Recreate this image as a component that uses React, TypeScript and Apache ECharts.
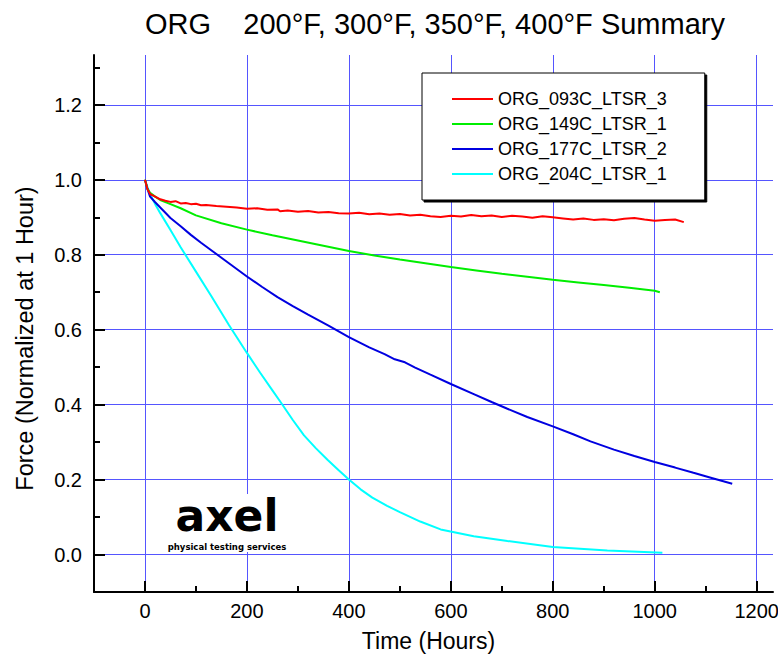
import React, { useEffect, useRef } from 'react';
import * as echarts from 'echarts';

const FONT = '"Liberation Sans", Arial, sans-serif';

const seriesNames = ['ORG_093C_LTSR_3', 'ORG_149C_LTSR_1', 'ORG_177C_LTSR_2', 'ORG_204C_LTSR_1'];
const seriesColors = ['#ff0000', '#00ee00', '#0000e0', '#00ffff'];

const xTickValues = [0, 200, 400, 600, 800, 1000, 1200];
const yTickValues = [0, 0.2, 0.4, 0.6, 0.8, 1.0, 1.2];

const redHours = [0, 5, 10, 20, 30, 40, 50, 60, 70, 80, 90, 100, 110, 120, 140, 160, 180, 200, 220, 240, 260, 265, 280, 300, 320, 340, 360, 380, 400, 420, 440, 460, 480, 500, 520, 540, 560, 580, 600, 620, 640, 660, 680, 700, 720, 740, 760, 780, 800, 820, 840, 860, 880, 900, 920, 940, 960, 980, 1000, 1020, 1040, 1057];
const redForce = [1.0, 0.975, 0.962, 0.955, 0.948, 0.944, 0.941, 0.943, 0.937, 0.938, 0.935, 0.936, 0.932, 0.933, 0.93, 0.928, 0.926, 0.923, 0.924, 0.92, 0.921, 0.916, 0.918, 0.915, 0.917, 0.913, 0.914, 0.911, 0.91, 0.912, 0.908, 0.91, 0.907, 0.909, 0.905, 0.907, 0.903, 0.901, 0.904, 0.902, 0.906, 0.903, 0.905, 0.901, 0.904, 0.902, 0.899, 0.903, 0.9, 0.897, 0.894, 0.897, 0.893, 0.895, 0.892, 0.896, 0.898, 0.894, 0.891, 0.893, 0.894, 0.887];

const greenHours = [0, 5, 10, 20, 30, 50, 70, 100, 150, 200, 250, 300, 350, 400, 450, 500, 550, 600, 650, 700, 750, 800, 850, 900, 950, 1000, 1010];
const greenForce = [1.0, 0.975, 0.965, 0.955, 0.946, 0.935, 0.924, 0.905, 0.884, 0.867, 0.852, 0.838, 0.824, 0.81, 0.798, 0.787, 0.777, 0.767, 0.758, 0.749, 0.741, 0.733, 0.726, 0.719, 0.712, 0.704, 0.7];

const blueHours = [0, 5, 10, 20, 30, 50, 70, 90, 110, 130, 150, 170, 200, 230, 260, 290, 320, 360, 400, 440, 470, 490, 510, 530, 560, 600, 645, 680, 711, 750, 800, 840, 874, 920, 960, 1000, 1040, 1076, 1110, 1152];
const blueForce = [1.0, 0.975, 0.955, 0.94, 0.926, 0.898, 0.876, 0.853, 0.832, 0.812, 0.792, 0.772, 0.742, 0.714, 0.687, 0.663, 0.64, 0.611, 0.58, 0.553, 0.535, 0.521, 0.513, 0.499, 0.48, 0.455, 0.428, 0.407, 0.389, 0.367, 0.342, 0.321, 0.302, 0.28, 0.263, 0.247, 0.232, 0.218, 0.205, 0.189];

const cyanHours = [0, 5, 10, 20, 30, 50, 70, 100, 130, 165, 200, 226, 250, 269, 290, 312, 335, 358, 380, 400, 423, 446, 475, 500, 540, 580, 645, 711, 800, 907, 1015];
const cyanForce = [1.0, 0.98, 0.962, 0.935, 0.911, 0.866, 0.82, 0.755, 0.69, 0.612, 0.538, 0.485, 0.438, 0.401, 0.359, 0.318, 0.284, 0.253, 0.225, 0.2, 0.174, 0.152, 0.13, 0.113, 0.088, 0.067, 0.049, 0.036, 0.02, 0.011, 0.005];

const allHours = [redHours, greenHours, blueHours, cyanHours];
const allForce = [redForce, greenForce, blueForce, cyanForce];

export default function App() {
  const ref = useRef<HTMLDivElement>(null);
  useEffect(() => {
    document.body.style.margin = '0';
    const chart = echarts.init(ref.current!, null, { renderer: 'svg' });
    const axisCommon = {
      type: 'value' as const,
      axisLine: { show: true, onZero: false, lineStyle: { color: '#000', width: 2 } },
      minorTick: { show: true, splitNumber: 2, length: 6, lineStyle: { color: '#000', width: 2 } },
      splitLine: { show: true, showMinLine: true, showMaxLine: true, lineStyle: { color: '#5555ff', width: 1 } },
      nameLocation: 'middle' as const,
    };
    chart.setOption({
      animation: false,
      backgroundColor: '#fff',
      title: {
        text: 'ORG    200°F, 300°F, 350°F, 400°F Summary',
        left: 430,
        top: 4,
        textAlign: 'center',
        textStyle: { fontSize: 29, fontWeight: 'normal', color: '#000', fontFamily: FONT },
      },
      grid: { left: 94, right: 5, top: 55, bottom: 66, containLabel: false, outerBoundsMode: 'none' },
      legend: {
        orient: 'vertical',
        left: 422,
        top: 73,
        padding: [17, 38, 17, 30],
        itemWidth: 41,
        itemHeight: 14,
        itemGap: 7,
        icon: 'path://M0,0L41,0L41,2L0,2Z',
        backgroundColor: '#fff',
        borderColor: '#000',
        borderWidth: 1,
        borderRadius: 0,
        shadowColor: '#000',
        shadowOffsetX: 2,
        shadowOffsetY: 2,
        shadowBlur: 0,
        selectedMode: false,
        textStyle: { fontSize: 18, lineHeight: 16, color: '#000', fontFamily: FONT },
        data: seriesNames,
      },
      xAxis: {
        ...axisCommon,
        min: -100,
        max: 1232,
        splitNumber: 7,
        name: 'Time (Hours)',
        nameGap: 37,
        nameTextStyle: { fontSize: 23, color: '#000', fontFamily: FONT, padding: [0, 10, 0, 0] },
        axisTick: { show: true, inside: true, length: 11, lineStyle: { color: '#000', width: 2 }, customValues: xTickValues },
        axisLabel: {
          show: true, customValues: xTickValues, margin: 9, color: '#000', fontSize: 20, fontFamily: FONT,
          formatter: (v: number) => String(v),
        },
      },
      yAxis: {
        ...axisCommon,
        min: -0.1,
        max: 1.333,
        splitNumber: 7,
        name: 'Force (Normalized at 1 Hour)',
        nameGap: 57,
        nameTextStyle: { fontSize: 23.5, color: '#000', fontFamily: FONT, padding: [0, 30, 0, 0] },
        axisTick: { show: true, inside: true, length: 11, lineStyle: { color: '#000', width: 2 }, customValues: yTickValues },
        axisLabel: {
          show: true,
          customValues: yTickValues,
          margin: 12,
          color: '#000',
          fontSize: 20,
          fontFamily: FONT,
          formatter: (v: number) => v.toFixed(1),
        },
      },
      graphic: [
        { type: 'rect', x: 168, y: 494, shape: { width: 118, height: 58 }, style: { fill: '#fff' }, z: 5 },
        {
          type: 'text', x: 227, y: 515, z: 6,
          style: { text: 'axel', font: 'bold 44px "DejaVu Sans"', lineHeight: 27, fill: '#000', textAlign: 'center', textVerticalAlign: 'middle' },
        },
        {
          type: 'text', x: 227, y: 547, z: 6,
          style: { text: 'physical testing services', font: 'bold 8.5px "DejaVu Sans"', lineHeight: 9, fill: '#000', textAlign: 'center', textVerticalAlign: 'middle' },
        },
      ],
      series: seriesNames.map((name, i) => ({
        name,
        type: 'line',
        symbol: 'none',
        showSymbol: false,
        smooth: false,
        lineStyle: { color: seriesColors[i], width: 2 },
        itemStyle: { color: seriesColors[i] },
        data: allHours[i].map((h, j) => [h, allForce[i][j]]),
        z: 10 - i,
      })),
    });
    return () => chart.dispose();
  }, []);
  return <div ref={ref} style={{ position: 'absolute', left: 0, top: 0, width: 778, height: 658 }} />;
}
